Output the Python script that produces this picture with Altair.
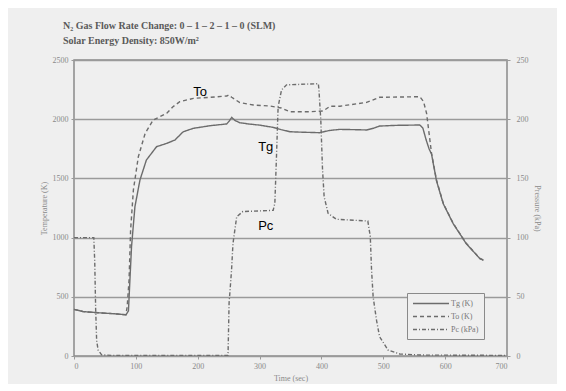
import altair as alt
import pandas as pd

# ---- data ----
tg_t = [0, 15, 40, 70, 84, 88, 90, 93, 98.5, 106.6, 117, 133.5, 150, 163, 176.6, 193, 220, 247, 251, 255, 260, 268, 285,
        300, 322, 335, 349, 370, 397, 413, 430, 450, 473, 485, 494, 520, 559, 564, 569, 574, 578, 586, 597, 613, 634, 656, 662]
tg_v = [394, 375, 365, 355, 348, 380, 600, 923, 1261, 1486, 1655, 1768, 1796, 1824, 1894, 1923, 1945, 1960, 1985, 2015, 1990,
        1970, 1958, 1950, 1931, 1912, 1894, 1890, 1886, 1905, 1914, 1912, 1909, 1925, 1942, 1948, 1951, 1925, 1830, 1750, 1705,
        1480, 1285, 1118, 950, 823, 808]

to_t = [0, 15, 40, 70, 84, 86, 89, 91.5, 96, 104, 115, 128, 150, 160, 171, 193, 220, 247, 250, 255, 268, 290, 317, 335,
        349, 381, 403, 414, 430, 473, 494, 559, 565, 570, 578, 586, 597, 613, 634, 656, 662]
to_v = [394, 375, 365, 355, 348, 420, 642, 1064, 1402, 1683, 1880, 1993, 2050, 2105, 2148, 2176, 2185, 2196, 2205, 2185,
        2140, 2120, 2111, 2095, 2063, 2063, 2070, 2110, 2110, 2142, 2185, 2190, 2150, 2050, 1712, 1486, 1290, 1121, 952, 825, 810]

pc_t = [0, 32, 33.5, 35, 36.6, 39, 44.7, 60, 249, 250.7, 254.7, 257, 263, 273, 322, 324.7, 327.5, 330, 335.5, 343.6, 395,
        396, 399, 401.8, 404.4, 410.8, 424, 475, 479, 481, 483.6, 489, 494, 507.8, 526.7, 560, 700]
pc_v = [100, 100, 80, 40, 13, 5, 1, 0.5, 0.5, 44.5, 72.6, 95, 117.6, 122, 123, 129, 171, 210.6, 224.7, 229, 230,
        224.7, 199, 157, 134.5, 120.5, 115.5, 114, 100.8, 73, 50, 30.4, 16.3, 5, 1.7, 0.8, 0.5]

series_names = ["Tg (K)", "To (K)", "Pc (kPa)"]

ann_text = ["To", "Tg", "Pc"]
ann_t = [204, 310, 310]
ann_v = [2230, 1769, 1094]

title_lines = ["N\u2082 Gas Flow Rate Change: 0 \u2013 1 \u2013 2 \u2013 1 \u2013 0 (SLM)",
               "Solar Energy Density: 850W/m\u00b2"]

# ---- frames ----
temp_df = pd.concat([
    pd.DataFrame({"t": tg_t, "T": tg_v, "series": series_names[0], "i": range(len(tg_t))}),
    pd.DataFrame({"t": to_t, "T": to_v, "series": series_names[1], "i": range(len(to_t))}),
])
pc_df = pd.DataFrame({"t": pc_t, "P": pc_v, "series": series_names[2], "i": range(len(pc_t))})
ann_df = pd.DataFrame({"t": ann_t, "T": ann_v, "label": ann_text})

GRAY = "#6c6c6c"
SERIF = "Liberation Serif, DejaVu Serif"
LBL = "#8a8a8a"

color = alt.Color("series:N", scale=alt.Scale(domain=series_names, range=[GRAY, GRAY, GRAY]),
                  legend=alt.Legend(title=None, orient="none", legendX=333, legendY=233,
                                    symbolType="M-1,0H7", symbolSize=81, symbolStrokeWidth=1.3,
                                    labelFont=SERIF, labelFontSize=8, labelColor="#777",
                                    labelOffset=28,
                                    strokeColor="#8a8a8a", padding=5, rowPadding=3,
                                    fillColor="#efefef"))
dash = alt.StrokeDash("series:N", scale=alt.Scale(domain=series_names,
                                                  range=[[1, 0], [4, 3], [4, 2, 1, 2]]),
                      legend=None)

x_enc = alt.X("t:Q", scale=alt.Scale(domain=[0, 700], nice=False),
              axis=alt.Axis(values=list(range(0, 701, 100)), title="Time (sec)", grid=False, format="d"))

y_temp = alt.Y("T:Q", scale=alt.Scale(domain=[0, 2500], nice=False),
               axis=alt.Axis(values=list(range(0, 2501, 500)), title="Temperature (K)", grid=True,
                             gridColor="#9a9a9a", gridWidth=1.4, format="d"))

temp_lines = alt.Chart(temp_df).mark_line(strokeWidth=1.4).encode(
    x=x_enc, y=y_temp, color=color, strokeDash=dash, order=alt.Order("i:Q"))

ann = alt.Chart(ann_df).mark_text(font="Liberation Sans", fontSize=13, color="black",
                                  align="center", baseline="middle").encode(
    x=alt.X("t:Q"), y=alt.Y("T:Q"), text="label:N")

pc_line = alt.Chart(pc_df).mark_line(strokeWidth=1.4).encode(
    x=alt.X("t:Q"),
    y=alt.Y("P:Q", scale=alt.Scale(domain=[0, 250], nice=False),
            axis=alt.Axis(orient="right", values=list(range(0, 251, 50)), title="Pressure (kPa)",
                          grid=False, titleAngle=90, labelPadding=6, format="d")),
    color=alt.Color("series:N"), strokeDash=alt.StrokeDash("series:N"), order=alt.Order("i:Q"))

chart = alt.layer(alt.layer(temp_lines, ann), pc_line).resolve_scale(y="independent").properties(
    width=433, height=296,
    autosize=alt.AutoSizeParams(type="none"),
    padding={"left": 66, "top": 52, "right": 50, "bottom": 28},
    title=alt.TitleParams(text=title_lines, anchor="start", dx=23, fontSize=10, font=SERIF,
                          fontWeight="bold", color="#5a5a5a", offset=10, lineHeight=15),
).configure(background="#efefef").configure_view(
    stroke="#8a8a8a", strokeWidth=1.5
).configure_axis(
    domain=False, labelFont=SERIF, labelFontSize=8, labelColor=LBL, titleFont=SERIF,
    titleFontSize=8, titleColor=LBL, titleFontWeight="normal", tickColor="#9a9a9a", tickSize=3,
    labelPadding=3
)

chart.save("out.html", embed_options={"renderer": "svg", "actions": False})
